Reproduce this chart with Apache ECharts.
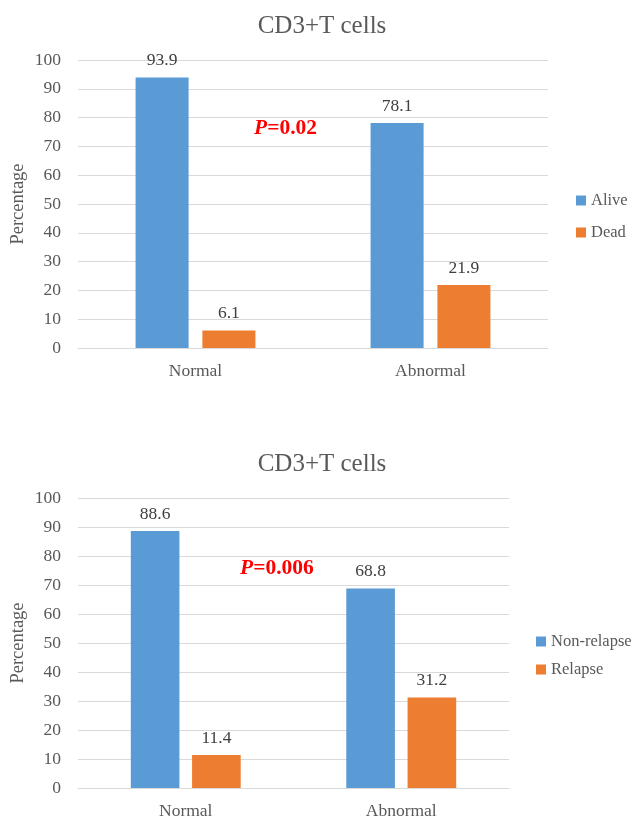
<!DOCTYPE html>
<html>
<head>
<meta charset="utf-8">
<script src="https://cdn.jsdelivr.net/npm/echarts@6/dist/echarts.min.js"></script>
<style>
  html, body { margin: 0; padding: 0; background: #fff; }
  #chart { width: 632px; height: 821px; }
</style>
</head>
<body>
<div id="chart"></div>
<script>
// Categories and values for the two panels
const categories = ['Normal', 'Abnormal'];
const yTicks = [0, 10, 20, 30, 40, 50, 60, 70, 80, 90, 100];

const aliveValues = [93.9, 78.1];
const deadValues = [6.1, 21.9];
const nonRelapseValues = [88.6, 68.8];
const relapseValues = [11.4, 31.2];

const panelTitle = 'CD3+T cells';
const survivalNames = ['Alive', 'Dead'];
const relapseNames = ['Non-relapse', 'Relapse'];
const pSurvival = '0.02';
const pRelapse = '0.006';

const FONT = '"Liberation Serif", "Times New Roman", serif';
const BLUE = '#5b9bd5';
const ORANGE = '#ed7d31';
const TEXT = '#595959';
const GRIDLINE = '#d9d9d9';
const FS = 17.5;

const chart = echarts.init(document.getElementById('chart'), null, { renderer: 'canvas' });

function xAxisFor(gridIndex) {
  return {
    type: 'category',
    gridIndex: gridIndex,
    data: categories,
    axisLine: { lineStyle: { color: GRIDLINE, width: 1 } },
    axisTick: { show: false },
    axisLabel: { color: TEXT, fontFamily: FONT, fontSize: FS, margin: 14 }
  };
}

function yAxisFor(gridIndex) {
  return {
    type: 'value',
    gridIndex: gridIndex,
    min: yTicks[0],
    max: yTicks[yTicks.length - 1],
    interval: yTicks[1] - yTicks[0],
    name: 'Percentage',
    nameLocation: 'middle',
    nameRotate: 90,
    nameGap: 50,
    nameMoveOverlap: false,
    nameTextStyle: { color: TEXT, fontFamily: FONT, fontSize: 18.5 },
    axisLine: { show: false },
    axisTick: { show: false },
    splitLine: { lineStyle: { color: GRIDLINE, width: 1 } },
    axisLabel: { color: TEXT, fontFamily: FONT, fontSize: FS, margin: 17 }
  };
}

function barSeries(name, values, color, idx) {
  return {
    name: name,
    type: 'bar',
    xAxisIndex: idx,
    yAxisIndex: idx,
    data: values,
    barGap: '26%',
    barCategoryGap: '49%',
    itemStyle: { color: color },
    label: {
      show: true,
      position: 'top',
      distance: 8,
      color: '#404040',
      fontFamily: FONT,
      fontSize: FS
    }
  };
}

function pLabel(value, left, top) {
  return {
    type: 'text',
    left: left,
    top: top,
    z: 100,
    style: {
      text: '{i|P}{b|=' + value + '}',
      rich: {
        i: { fontFamily: FONT, fontSize: 21.5, fontWeight: 'bold', fontStyle: 'italic', fill: '#ff0000' },
        b: { fontFamily: FONT, fontSize: 21.5, fontWeight: 'bold', fill: '#ff0000' }
      }
    }
  };
}

const legendText = { color: TEXT, fontFamily: FONT, fontSize: 16.5 };
const titleText = { color: TEXT, fontFamily: FONT, fontSize: 25, fontWeight: 'normal' };

chart.setOption({
  animation: false,
  backgroundColor: '#ffffff',
  title: [
    { text: panelTitle, left: 317, textAlign: 'center', top: 9, textStyle: titleText },
    { text: panelTitle, left: 317, textAlign: 'center', top: 447, textStyle: titleText }
  ],
  legend: [
    { data: survivalNames, orient: 'vertical', left: 576, top: 192, padding: 0,
      icon: 'rect', itemWidth: 10, itemHeight: 10, itemGap: 15, textStyle: legendText },
    { data: relapseNames, orient: 'vertical', left: 536, top: 633, padding: 0,
      icon: 'rect', itemWidth: 10, itemHeight: 10, itemGap: 11, textStyle: legendText }
  ],
  grid: [
    { left: 78, right: 84, top: 60, height: 288, outerBoundsMode: 'none' },
    { left: 78, right: 123, top: 498, height: 290, outerBoundsMode: 'none' }
  ],
  xAxis: [xAxisFor(0), xAxisFor(1)],
  yAxis: [yAxisFor(0), yAxisFor(1)],
  series: [
    barSeries(survivalNames[0], aliveValues, BLUE, 0),
    barSeries(survivalNames[1], deadValues, ORANGE, 0),
    barSeries(relapseNames[0], nonRelapseValues, BLUE, 1),
    barSeries(relapseNames[1], relapseValues, ORANGE, 1)
  ],
  graphic: [
    pLabel(pSurvival, 254, 117),
    pLabel(pRelapse, 240, 557)
  ]
});
</script>
</body>
</html>
